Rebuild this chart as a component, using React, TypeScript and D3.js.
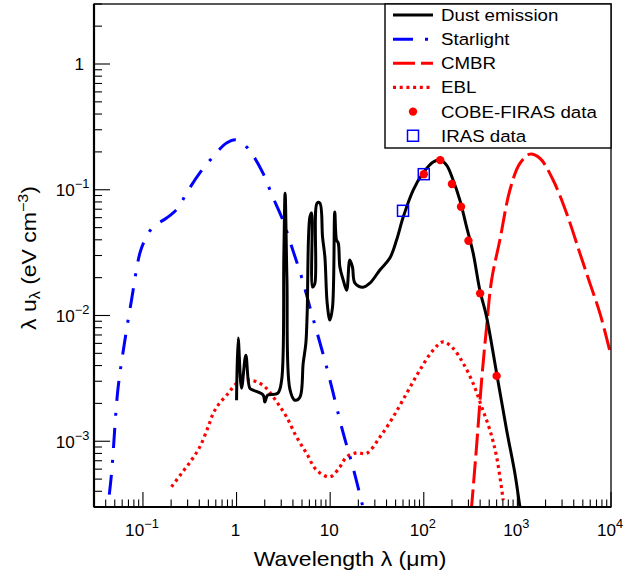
import React from "react";
import * as d3 from "d3";

// ---------- data ----------
const starlightLambda = [0.0385, 0.0422, 0.0462, 0.0539, 0.0625, 0.0755, 0.0927, 0.1047, 0.1276, 0.1787, 0.236, 0.292, 0.405, 0.558, 0.782, 1.0, 1.279, 1.49, 1.91, 2.44, 3.12, 3.99, 4.95, 6.07, 9.16, 13.7, 17.5, 22.4, 25];
const starlightU = [1.6e-4, 3.0e-4, 5.57e-4, 2.55e-3, 5.61e-3, 1.33e-2, 3.13e-2, 3.98e-2, 5.05e-2, 5.96e-2, 7.15e-2, 9.41e-2, 0.136, 0.182, 0.235, 0.249, 0.219, 0.189, 0.136, 0.0875, 0.0574, 0.0331, 0.0202, 0.01166, 3.89e-3, 1.18e-3, 6.22e-4, 3.0e-4, 2.2e-4];

const dustLambda = [1.0, 1.04, 1.13, 1.256, 1.387, 1.504, 1.923, 2.005, 2.09, 2.16, 2.76, 3.03, 3.2, 3.3, 3.45, 3.71, 4.2, 4.75, 5.15, 5.5, 5.68, 6.07, 6.33, 6.49, 6.87, 7.26, 7.76, 8.29, 8.78, 9.29, 9.93, 10.6, 11.2, 11.7, 12.2, 12.7, 13.8, 15.0, 16.2, 17.3, 18.4, 22.5, 26.6, 34.0, 43.4, 51.2, 60.3, 77.1, 98.6, 126, 149, 175, 206, 243, 287, 337, 397, 469, 600, 767, 940, 1064, 1190];
const dustU = [2.12e-3, 6.61e-3, 2.64e-3, 4.84e-3, 2.64e-3, 2.55e-3, 2.33e-3, 2.05e-3, 2.24e-3, 2.33e-3, 2.41e-3, 3.06e-3, 0.03, 0.0936, 0.02, 2.6e-3, 2.12e-3, 2.24e-3, 4.18e-3, 6.03e-3, 0.01045, 0.0607, 0.0653, 0.01683, 0.0181, 0.0784, 0.0784, 0.0421, 0.0292, 0.01256, 9.19e-3, 0.01166, 0.0665, 0.0398, 0.0377, 0.0243, 0.0191, 0.0159, 0.0276, 0.0243, 0.0181, 0.0168, 0.0181, 0.023, 0.0286, 0.0398, 0.0607, 0.0995, 0.136, 0.166, 0.172, 0.157, 0.119, 0.0828, 0.0505, 0.0313, 0.0159, 9.71e-3, 3.48e-3, 1.23e-3, 5.57e-4, 3.0e-4, 1.7e-4];

const cmbrLambda = [286, 324, 366, 415, 469, 530, 650, 832, 1064, 1361, 1738, 2413, 3357, 4655, 5957, 7620, 10000];
const cmbrU = [1.0e-4, 3.0e-4, 9.02e-4, 3.06e-3, 8.13e-3, 0.0191, 0.0398, 0.0995, 0.162, 0.192, 0.178, 0.119, 0.0649, 0.0312, 0.018, 0.0104, 4.8e-3];

const eblLambda = [0.202, 0.258, 0.33, 0.405, 0.497, 0.562, 0.636, 0.813, 1.0, 1.28, 1.64, 2.09, 2.68, 3.42, 4.38, 5.6, 7.16, 9.93, 12.7, 15.0, 19.1, 24.5, 34.0, 47.1, 65.5, 90.8, 126, 161, 206, 264, 337, 415, 508, 600, 705];
const eblU = [4.34e-4, 5.55e-4, 7.08e-4, 9.02e-4, 1.3e-3, 1.66e-3, 1.94e-3, 2.4e-3, 2.88e-3, 3.06e-3, 2.97e-3, 2.63e-3, 2.06e-3, 1.56e-3, 1.08e-3, 8.0e-4, 5.89e-4, 5.21e-4, 6.25e-4, 7.51e-4, 8.09e-4, 8.0e-4, 1.08e-3, 1.56e-3, 2.4e-3, 3.68e-3, 5.31e-3, 6.18e-3, 5.47e-3, 4.16e-3, 2.88e-3, 1.88e-3, 1.23e-3, 7.51e-4, 3.4e-4];

const cobeLambda = [100, 150, 200, 250, 300, 400, 600];
const cobeU = [0.133, 0.172, 0.111, 0.0732, 0.0393, 0.015, 3.31e-3];

const irasLambda = [60, 100];
const irasU = [0.068, 0.133];

const xMajorExp = [-1, 0, 1, 2, 3, 4];
const yMajorExp = [-3, -2, -1, 0];
const legendLabels = ["Dust emission", "Starlight", "CMBR", "EBL", "COBE-FIRAS data", "IRAS data"];

// ---------- layout ----------
const W = 624, H = 575;
const L = 94, R = 611, T = 4, B = 507;
const FONT = "'Liberation Sans', Arial, Helvetica, sans-serif";

const x = d3.scaleLog().domain([0.03, 1e4]).range([L, R]);
const y = d3.scaleLog().domain([3e-4, 3]).range([B, T]);

const zip = (a: number[], b: number[]) => a.map((v, i) => [v, b[i]] as [number, number]);
const line = d3
  .line<[number, number]>()
  .x((d) => x(d[0]))
  .y((d) => y(d[1]))
  .curve(d3.curveCatmullRom.alpha(0.5));

function Txt(props: any) {
  const { x: tx, y: ty, size, sx = 1.18, anchor = "start", rotate = 0, children, fill = "#000" } = props;
  const tr = `translate(${tx},${ty})${rotate ? ` rotate(${rotate})` : ""} scale(${sx},1)`;
  return (
    <text transform={tr} fontSize={size} textAnchor={anchor} fontFamily={FONT} fill={fill}>
      {children}
    </text>
  );
}

function powLabel(e: number, supSize: number, dy: number) {
  if (e === 0) return "1";
  if (e === 1) return "10";
  return (
    <>
      10
      <tspan fontSize={supSize} dy={-dy}>
        {e < 0 ? "\u2212" + Math.abs(e) : String(e)}
      </tspan>
    </>
  );
}

export default function App() {
  const xMinor: number[] = [];
  for (let e = -2; e <= 3; e++) for (let k = 2; k <= 9; k++) {
    const v = k * Math.pow(10, e);
    if (v >= 0.03 && v <= 1e4) xMinor.push(v);
  }
  const yMinor: number[] = [];
  for (let e = -4; e <= 0; e++) for (let k = 2; k <= 9; k++) {
    const v = k * Math.pow(10, e);
    if (v >= 3e-4 && v <= 3) yMinor.push(v);
  }

  const rowY = (i: number) => 15 + i * 24.15;
  const legX0 = 393, legX1 = 433, legText = 441, legMark = 413;

  return (
    <svg width={W} height={H} style={{ position: "absolute", left: 0, top: 0, background: "#fff" }}>
      <defs>
        <clipPath id="plotclip">
          <rect x={L} y={T} width={R - L} height={B - T} />
        </clipPath>
      </defs>
      <rect x={0} y={0} width={W} height={H} fill="#fff" />

      {/* curves */}
      <g clipPath="url(#plotclip)" fill="none">
        <path d={line(zip(eblLambda, eblU)) || ""} stroke="#ff0000" strokeWidth={3.2} strokeDasharray="3 3.7" />
        <path d={line(zip(cmbrLambda, cmbrU)) || ""} stroke="#ff0000" strokeWidth={3} strokeDasharray="22 6" />
        <path d={line(zip(starlightLambda, starlightU)) || ""} stroke="#0000ff" strokeWidth={3} strokeDasharray="20 12 3 12" />
        <path d={line(zip(dustLambda, dustU)) || ""} stroke="#000" strokeWidth={3} strokeLinejoin="round" />
      </g>

      {/* data markers */}
      <g>
        {zip(cobeLambda, cobeU).map((d, i) => (
          <circle key={"c" + i} cx={x(d[0])} cy={y(d[1])} r={4.2} fill="#ff0000" />
        ))}
        {zip(irasLambda, irasU).map((d, i) => (
          <rect key={"s" + i} x={x(d[0]) - 5.5} y={y(d[1]) - 5.5} width={11} height={11} fill="none" stroke="#0000ff" strokeWidth={1.5} />
        ))}
      </g>

      {/* frame */}
      <rect x={L} y={T} width={R - L} height={B - T} fill="none" stroke="#000" strokeWidth={1.3} />
      <line x1={L} y1={T} x2={L} y2={B} stroke="#000" strokeWidth={2.2} />
      <line x1={L} y1={B} x2={R} y2={B} stroke="#000" strokeWidth={2.2} />

      {/* ticks */}
      <g stroke="#000" strokeWidth={1.1}>
        {xMajorExp.map((e) => (
          <line key={"xM" + e} x1={x(Math.pow(10, e))} x2={x(Math.pow(10, e))} y1={B} y2={B - 15} />
        ))}
        {xMinor.map((v, i) => (
          <line key={"xm" + i} x1={x(v)} x2={x(v)} y1={B} y2={B - 7.5} />
        ))}
        {yMajorExp.map((e) => (
          <line key={"yM" + e} y1={y(Math.pow(10, e))} y2={y(Math.pow(10, e))} x1={L} x2={L + 16} />
        ))}
        {yMinor.map((v, i) => (
          <line key={"ym" + i} y1={y(v)} y2={y(v)} x1={L} x2={L + 8} />
        ))}
      </g>

      {/* x tick labels */}
      {xMajorExp.map((e) => (
        <Txt key={"xl" + e} x={x(Math.pow(10, e)) - 1} y={535.5} size={16} sx={1.07} anchor="middle">
          {powLabel(e, 12, 8)}
        </Txt>
      ))}
      {/* y tick labels */}
      {yMajorExp.map((e) => (
        <Txt key={"yl" + e} x={e === 0 ? 84 : 89.5} y={y(Math.pow(10, e)) + 6.5} size={16} sx={1.07} anchor="end">
          {powLabel(e, 12, 8)}
        </Txt>
      ))}

      {/* axis titles */}
      <Txt x={350} y={566} size={20} sx={1.15} anchor="middle">
        Wavelength λ (μm)
      </Txt>
      <Txt x={36} y={258} size={20} sx={1.15} anchor="middle" rotate={-90}>
        λ u<tspan fontSize={14} dy={4}>λ</tspan>
        <tspan dy={-4}> (eV cm</tspan>
        <tspan fontSize={14} dy={-8}>−3</tspan>
        <tspan dy={8}>)</tspan>
      </Txt>

      {/* legend */}
      <rect x={385} y={T} width={R - 385} height={148 - T} fill="#fff" stroke="#000" strokeWidth={1.4} />
      <line x1={legX0} x2={legX1} y1={rowY(0)} y2={rowY(0)} stroke="#000" strokeWidth={3} />
      <line x1={legX0} x2={legX1} y1={rowY(1)} y2={rowY(1)} stroke="#0000ff" strokeWidth={3} strokeDasharray="20 12 3 12" />
      <line x1={legX0} x2={legX1} y1={rowY(2)} y2={rowY(2)} stroke="#ff0000" strokeWidth={3} strokeDasharray="22 6" />
      <line x1={legX0} x2={legX1} y1={rowY(3)} y2={rowY(3)} stroke="#ff0000" strokeWidth={3.2} strokeDasharray="3 3.7" />
      <circle cx={legMark} cy={rowY(4)} r={4.2} fill="#ff0000" />
      <rect x={legMark - 5.5} y={rowY(5) - 5.5} width={11} height={11} fill="none" stroke="#0000ff" strokeWidth={1.5} />
      {legendLabels.map((s, i) => (
        <Txt key={"lg" + i} x={legText} y={rowY(i) + 6} size={17} sx={1.1}>
          {s}
        </Txt>
      ))}
    </svg>
  );
}
